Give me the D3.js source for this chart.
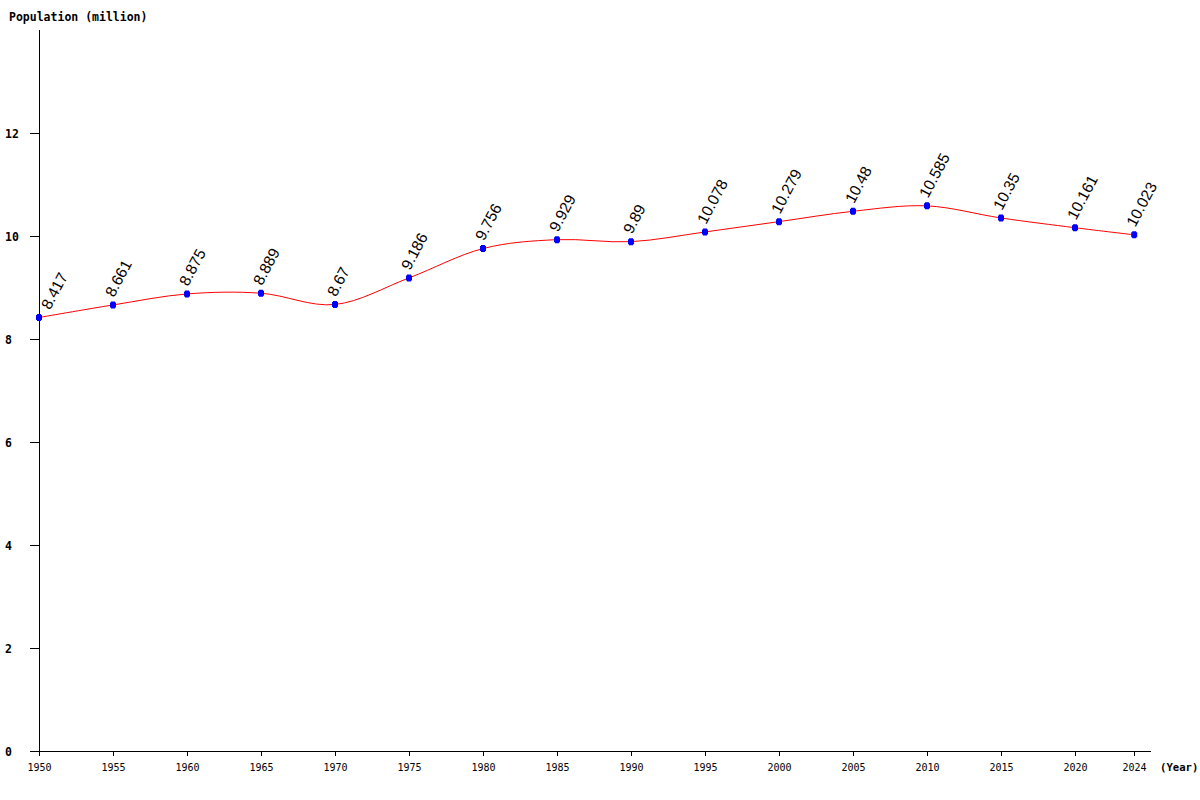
<!DOCTYPE html>
<html lang="en">
<meta charset="UTF-8">
<script src="https://d3js.org/d3.v7.min.js"></script>
<style>
body { margin: 0; background: #fff; }
svg text { font-family: "DejaVu Sans Mono", monospace; }
</style>
<body>
<div id="chart"></div>
<script>
// population data (million)
var years = [1950, 1955, 1960, 1965, 1970, 1975, 1980, 1985, 1990, 1995, 2000, 2005, 2010, 2015, 2020, 2024];
var population = [8.417, 8.661, 8.875, 8.889, 8.67, 9.186, 9.756, 9.929, 9.89, 10.078, 10.279, 10.48, 10.585, 10.35, 10.161, 10.023];
var yTicks = [0, 2, 4, 6, 8, 10, 12];

var data = years.map(function(y, i) { return {year: y, value: population[i]}; });

var width = 1200, height = 800;

var svg = d3.select("#chart")
  .append("svg")
    .attr("width", width)
    .attr("height", height);

var x = d3.scaleLinear().domain([1950, 2025]).range([39, 1149]);
var y = d3.scaleLinear().domain([0, 14]).range([751, 30]);

// y axis line
svg.append("line")
  .attr("x1", 39.5).attr("x2", 39.5)
  .attr("y1", 30).attr("y2", 751)
  .attr("stroke", "#000");

// x axis line
svg.append("line")
  .attr("x1", 30).attr("x2", 1151)
  .attr("y1", 751.5).attr("y2", 751.5)
  .attr("stroke", "#000");

// y ticks and labels
yTicks.forEach(function(t) {
  var yy = Math.round(y(t)) + 0.5;
  svg.append("line")
    .attr("x1", 30).attr("x2", 39)
    .attr("y1", yy).attr("y2", yy)
    .attr("stroke", "#000");
  svg.append("text")
    .attr("x", 5)
    .attr("y", yy + 4)
    .style("font-size", "11.5px")
    .style("font-weight", "bold")
    .text(t);
});

// x ticks and labels
years.forEach(function(t) {
  var xx = Math.round(x(t)) + 0.5;
  svg.append("line")
    .attr("x1", xx).attr("x2", xx)
    .attr("y1", 751).attr("y2", 756)
    .attr("stroke", "#000");
  svg.append("text")
    .attr("x", xx)
    .attr("y", 771)
    .attr("text-anchor", "middle")
    .style("font-size", "10px")
    .text(t);
});

// axis titles
svg.append("text")
  .attr("x", 9).attr("y", 21)
  .style("font-size", "11.5px")
  .style("font-weight", "bold")
  .text("Population (million)");

svg.append("text")
  .attr("x", 1160).attr("y", 771)
  .style("font-size", "10.6px")
  .style("font-weight", "bold")
  .text("(Year)");

// the line
svg.append("path")
  .datum(data)
  .attr("fill", "none")
  .attr("stroke", "#ff0000")
  .attr("stroke-width", 1)
  .attr("d", d3.line()
    .curve(d3.curveCardinal.tension(0))
    .x(function(d) { return x(d.year); })
    .y(function(d) { return y(d.value); })
  );

// markers
svg.selectAll(".mark")
  .data(data)
  .enter()
  .append("path")
    .attr("class", "mark")
    .attr("fill", "#0000ff")
    .attr("transform", function(d) { return "translate(" + x(d.year) + "," + y(d.value) + ")"; })
    .attr("d", "M-2,-3.5H2V-2.5H3V2.5H2V3.5H-2V2.5H-3V-2.5H-2Z");

// value labels (kept inside the plot on the left edge)
svg.selectAll(".val")
  .data(data)
  .enter()
  .append("text")
    .attr("class", "val")
    .attr("transform", function(d) {
      var lx = Math.max(x(d.year) + 1, 50);
      return "translate(" + lx + "," + (y(d.value) - 7) + ") rotate(-62)";
    })
    .style("font-family", "'Liberation Sans', Arial, sans-serif")
    .style("font-size", "15.5px")
    .attr("fill", "#000")
    .text(function(d) { return d.value; });
</script>
</body>
</html>
